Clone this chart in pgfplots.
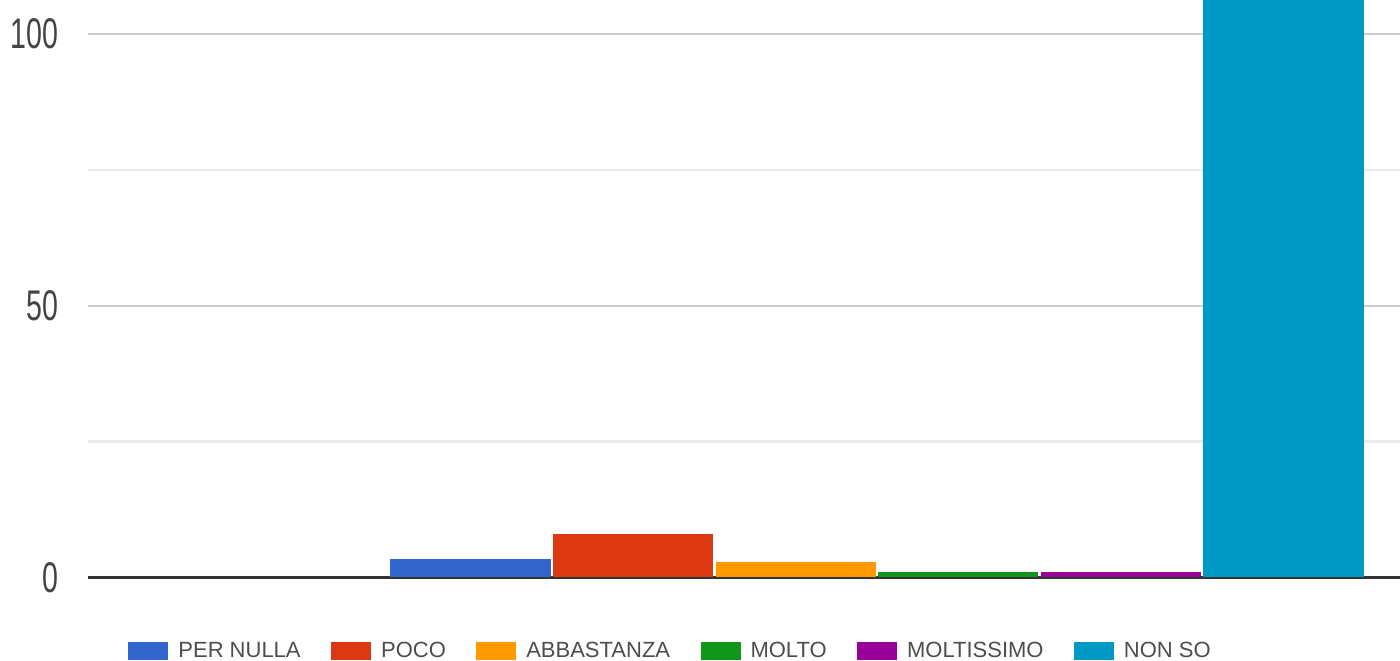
\documentclass[border=0pt]{standalone}
\usepackage{fontspec}
\setmainfont{Liberation Sans}
\usepackage{pgfplots}
\pgfplotsset{compat=1.18}
\definecolor{c1}{HTML}{3366CC}
\definecolor{c2}{HTML}{DC3912}
\definecolor{c3}{HTML}{FF9900}
\definecolor{c4}{HTML}{109618}
\definecolor{c5}{HTML}{990099}
\definecolor{c6}{HTML}{0099C6}
\definecolor{axisc}{HTML}{333333}
\definecolor{gridmaj}{HTML}{CCCCCC}
\definecolor{gridmin}{HTML}{EBEBEB}
\definecolor{tickc}{HTML}{444444}
\definecolor{legc}{HTML}{4D4D4D}
\begin{document}
\begin{tikzpicture}
\begin{axis}[
  scale only axis, width=656pt, height=288.75pt,
  xmin=-2.352, xmax=5.717, ymin=0, ymax=106.25,
  axis x line*=bottom, axis y line*=left,
  x axis line style={draw=axisc, line width=1.5pt},
  y axis line style={draw=none},
  xtick=\empty,
  ytick={0,50,100}, minor ytick={25,75},
  ymajorgrids, yminorgrids,
  major grid style={draw=gridmaj, line width=1.2pt},
  minor grid style={draw=gridmin, line width=1.2pt},
  major tick length=0pt, minor tick length=0pt,
  /pgf/number format/assume math mode=true,
  yticklabel={\scalebox{1}[1.5]{\pgfmathprintnumber{\tick}}},
  yticklabel style={anchor=east, inner sep=0pt, xshift=-14.5pt, text=tickc, font=\fontsize{14.3}{16}\selectfont},
  legend columns=6,
  legend image code/.code={\fill[#1] (0pt,-4.5pt) rectangle (20pt,4.5pt);},
  legend style={at={(rel axis cs:0.0305,-0.1280)}, anchor=west, draw=none, fill=none, inner sep=0pt,
    font=\fontsize{11}{13}\selectfont, text=legc,
    nodes={inner sep=0pt},
    /tikz/every odd column/.style={column sep=5pt},
    /tikz/every even column/.style={column sep=15.2pt}},
]
\addplot[ybar, bar width=0.985, fill=c1, draw=none] coordinates {(0,3.4)};
\addlegendentry{PER NULLA}
\addplot[ybar, bar width=0.985, fill=c2, draw=none] coordinates {(1,8.0)};
\addlegendentry{POCO}
\addplot[ybar, bar width=0.985, fill=c3, draw=none] coordinates {(2,2.85)};
\addlegendentry{ABBASTANZA}
\addplot[ybar, bar width=0.985, fill=c4, draw=none] coordinates {(3,1.0)};
\addlegendentry{MOLTO}
\addplot[ybar, bar width=0.985, fill=c5, draw=none] coordinates {(4,1.0)};
\addlegendentry{MOLTISSIMO}
\addplot[ybar, bar width=0.985, fill=c6, draw=none] coordinates {(5,115)};
\addlegendentry{NON SO}
\end{axis}
\pgfresetboundingbox
\useasboundingbox (current axis.south west) ++(-44pt,-41.75pt) rectangle (current axis.north east);
\end{tikzpicture}
\end{document}
